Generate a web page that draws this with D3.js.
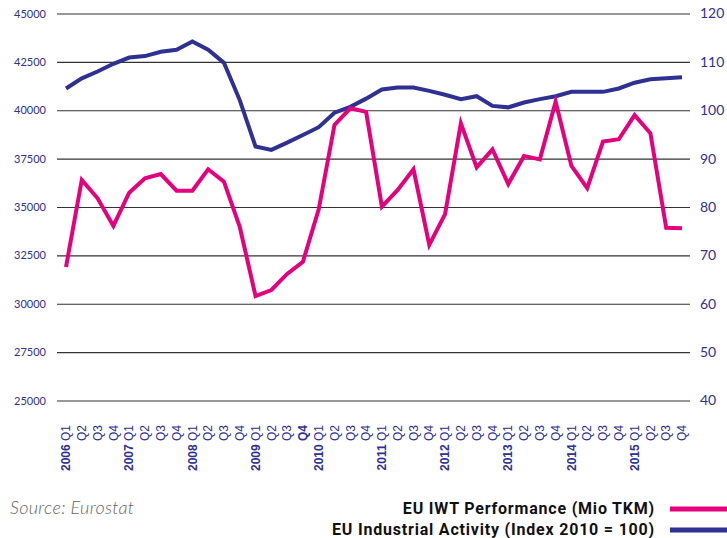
<!DOCTYPE html>
<html>
<head>
<meta charset="utf-8">
<title>EU IWT Performance vs Industrial Activity</title>
<style>
  body { margin: 0; background: #fff; }
  svg { display: block; }
</style>
</head>
<body>
<svg width="727" height="538"></svg>
<script src="https://d3js.org/d3.v7.min.js"></script>
<script>
  // quarters 2006 Q1 .. 2015 Q4
  const years = ["2006","2007","2008","2009","2010","2011","2012","2013","2014","2015"];
  const quarters = ["Q1","Q2","Q3","Q4"];

  // EU IWT Performance (Mio TKM), left axis
  const iwt = [31900, 36400, 35450, 34020, 35740, 36480, 36700, 35840,
               35840, 36950, 36310, 33980, 30400, 30710, 31540, 32170,
               34880, 39240, 40100, 39920, 35020, 35880, 36950, 33040,
               34630, 39320, 37050, 37980, 36190, 37640, 37460, 40440,
               37120, 35970, 38380, 38500, 39750, 38810, 33930, 33900];

  // EU Industrial Activity (Index 2010 = 100), right axis
  const industry = [104.5, 106.6, 108.0, 109.6, 110.9, 111.2, 112.1, 112.5,
                    114.2, 112.5, 109.8, 102.1, 92.5, 91.8, 93.3, 94.9,
                    96.5, 99.5, 100.7, 102.4, 104.3, 104.7, 104.7, 104.0,
                    103.2, 102.3, 102.9, 100.9, 100.6, 101.6, 102.3, 102.9,
                    103.8, 103.8, 103.8, 104.5, 105.7, 106.4, 106.6, 106.8];

  const leftTicks = [25000, 27500, 30000, 32500, 35000, 37500, 40000, 42500, 45000];
  const rightTicks = [40, 50, 60, 70, 80, 90, 100, 110, 120];

  const pink = "#e5007d", navy = "#2e3192";

  const periods = [];
  years.forEach(y => quarters.forEach(q => periods.push({ year: y, q: q, key: y + " " + q })));

  const svg = d3.select("svg");
  const gridLeft = 57, gridRight = 690;

  const x = d3.scalePoint().domain(periods.map(d => d.key)).range([66, 682]);
  const yL = d3.scaleLinear().domain([25000, 45000]).range([400.5, 13.5]);
  const yR = d3.scaleLinear().domain([40, 120]).range([400.5, 13.5]);

  // left axis + gridlines
  const gl = svg.append("g")
    .attr("transform", `translate(${gridLeft},0)`)
    .call(d3.axisLeft(yL).tickValues(leftTicks).tickSize(-(gridRight - gridLeft))
      .tickPadding(11).tickFormat(d3.format("d")));
  gl.select(".domain").remove();
  gl.selectAll(".tick line").attr("stroke", "#333").attr("stroke-width", 1.2);
  gl.selectAll(".tick text")
    .attr("fill", navy).style("font-family", "Lato, sans-serif").style("font-size", "11px");

  // right axis
  const gr = svg.append("g")
    .attr("transform", `translate(${gridRight},0)`)
    .call(d3.axisRight(yR).tickValues(rightTicks).tickSize(0).tickPadding(10));
  gr.select(".domain").remove();
  gr.selectAll(".tick text")
    .attr("fill", navy).style("font-family", "Lato, sans-serif").style("font-size", "14px");

  // x labels (rotated)
  const xl = svg.append("g").selectAll("text")
    .data(periods).enter().append("text")
    .attr("transform", d => `translate(${x(d.key)},425) rotate(-90)`)
    .attr("text-anchor", "end")
    .attr("dy", "0.35em")
    .attr("fill", navy)
    .style("font-family", "'Liberation Sans', Arial, sans-serif")
    .style("font-size", "12px");
  xl.filter(d => d.q === "Q1").append("tspan")
    .style("font-weight", "bold").text(d => d.year + " ");
  xl.append("tspan")
    .style("font-weight", d => (d.key === "2009 Q4" ? "bold" : "normal"))
    .text(d => d.q);

  // lines
  const lineL = d3.line().x((d, i) => x(periods[i].key)).y(d => yL(d));
  const lineR = d3.line().x((d, i) => x(periods[i].key)).y(d => yR(d));

  svg.append("path").datum(industry)
    .attr("d", lineR).attr("fill", "none")
    .attr("stroke", navy).attr("stroke-width", 4).attr("stroke-linejoin", "miter");

  svg.append("path").datum(iwt)
    .attr("d", lineL).attr("fill", "none")
    .attr("stroke", pink).attr("stroke-width", 4).attr("stroke-linejoin", "miter");

  // source
  svg.append("text")
    .attr("x", 10).attr("y", 508).attr("dy", "0.35em")
    .attr("fill", "#666")
    .style("font-family", "Lato, sans-serif")
    .style("font-style", "italic").style("font-weight", 300)
    .style("font-size", "18px")
    .style("letter-spacing", "0.3px")
    .text("Source: Eurostat");

  // legend
  const legend = [
    { label: "EU IWT Performance (Mio TKM)", color: pink, y: 508 },
    { label: "EU Industrial Activity (Index 2010 = 100)", color: navy, y: 529 }
  ];
  const lg = svg.append("g").selectAll("g").data(legend).enter().append("g");
  lg.append("text")
    .attr("x", 655).attr("y", d => d.y).attr("dy", "0.35em")
    .attr("text-anchor", "end").attr("fill", "#111")
    .style("font-family", "Roboto, sans-serif").style("font-weight", "bold")
    .style("font-size", "16px")
    .style("letter-spacing", "0.8px")
    .text(d => d.label);
  lg.append("line")
    .attr("x1", 670).attr("x2", 727)
    .attr("y1", d => d.y + 1).attr("y2", d => d.y + 1)
    .attr("stroke", d => d.color).attr("stroke-width", 5);
</script>
</body>
</html>
